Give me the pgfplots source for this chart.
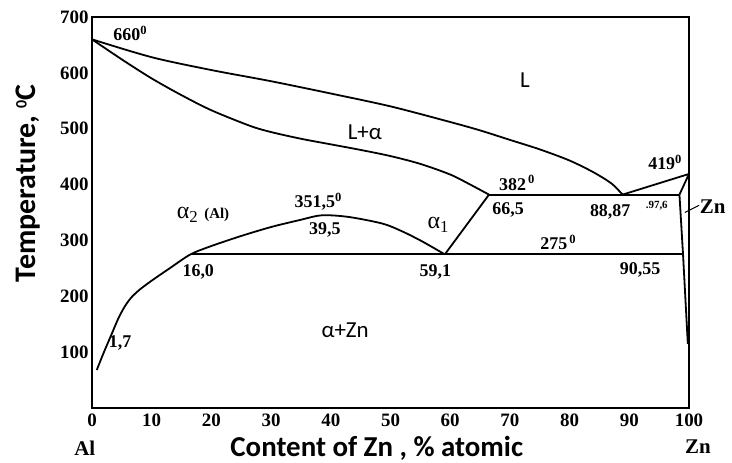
\documentclass[border=0pt]{standalone}
\usepackage{fontspec}
\setmainfont{Liberation Serif}
\newfontfamily\calfont{Carlito}
\usepackage{pgfplots}
\pgfplotsset{compat=1.18}
\usetikzlibrary{calc}

\begin{document}
\begin{tikzpicture}[
    ann/.style={font=\bfseries\fontsize{18}{18}\selectfont},
    big/.style={font=\bfseries\fontsize{21}{21}\selectfont},
    sans/.style={font=\calfont\fontsize{23}{23}\selectfont},
]
\begin{axis}[
    scale only axis,
    width=597bp, height=391bp,
    xmin=0, xmax=100,
    ymin=0, ymax=700,
    xtick={0,10,...,100},
    ytick={100,200,...,700},
    tick style={draw=none},
    axis line style={line width=2.2bp},
    /pgf/number format/assume math mode=true,
    ticklabel style={font=\bfseries\fontsize{19}{19}\selectfont},
    xticklabel style={yshift=-2bp},
    clip=false,
    xlabel={Content of Zn , \% atomic},
    xlabel style={at={(axis description cs:0.477,-0.104)}, anchor=center,
        font=\calfont\bfseries\fontsize{29}{29}\selectfont},
    ylabel={Temperature, \textsuperscript{\fontsize{16}{16}\selectfont 0}C},
    ylabel style={at={(axis description cs:-0.107,0.575)}, anchor=center, rotate=0,
        font=\calfont\bfseries\fontsize{30}{30}\selectfont},
    cycle list={{black, solid, mark=none}},
    every axis plot/.append style={line width=1.8bp},
]
\coordinate (sw) at (rel axis cs:0,0);
\coordinate (ne) at (rel axis cs:1,1);

% liquidus
\addplot+[smooth] coordinates {(0,660) (10,628) (20,605) (30,585) (40,563)
    (50,540) (60,512) (65,497) (70,480) (75,463) (80,443) (84,422) (87,402) (88.87,382)};
% solidus
\addplot+[smooth] coordinates {(0,660) (5,624) (10,590) (15,560) (20,533)
    (26.5,505) (30,494) (35,482) (40,472) (45,462) (50,451) (55,437)
    (60,418) (63,402) (66.5,382)};
% alpha solvus and miscibility dome
\addplot+[smooth] coordinates {(0.8,68) (2,100) (3.2,130) (4.4,160) (5.5,182)
    (6.6,198) (8,212) (10,228) (13,250) (16.5,275) (20,290) (25,308) (30,324)
    (35,337) (38.5,345) (43,342) (48.7,330) (52,316) (55,300) (57,288) (59.1,275)};
% invariant lines
\addplot+[] coordinates {(16.5,275) (99,275)};
\addplot+[] coordinates {(66.5,382) (98.4,382)};
\addplot+[] coordinates {(59.1,275) (66.5,382)};
\addplot+[] coordinates {(88.87,382) (100,419)};
\addplot+[] coordinates {(98.4,382) (100,419)};
% Zn solvus
\addplot+[] coordinates {(98.4,382) (99,275) (99.8,115)};

\node[ann] at (axis cs:6.4,671) {660\textsuperscript{0}};
\node[sans] at (axis cs:72.5,587) {L};
\node[sans] at (axis cs:45.7,494) {L+α};
\node at (axis cs:18.6,345.5) {\fontsize{24}{24}\selectfont α\textsubscript{2}\ \bfseries\fontsize{15}{15}\selectfont(Al)};
\node[ann] at (axis cs:37.9,369) {351,5\textsuperscript{0}};
\node[ann] at (axis cs:39.0,319) {39,5};
\node at (axis cs:58.0,328) {\fontsize{24}{24}\selectfont α\textsubscript{1}};
\node[ann] at (axis cs:57.5,243.5) {59,1};
\node[ann] at (axis cs:17.8,243.5) {16,0};
\node[ann] at (axis cs:4.7,116) {1,7};
\node[sans] at (axis cs:42.4,140) {α+Zn};
\node[ann] at (axis cs:71.2,403) {382\textsuperscript{\,0}};
\node[ann] at (axis cs:69.7,354) {66,5};
\node[ann] at (axis cs:86.8,351) {88,87};
\node[font=\bfseries\fontsize{11}{11}\selectfont] at (axis cs:94.6,362) {.97,6};
\node[ann] at (axis cs:78.1,297) {275\textsuperscript{\,0}};
\node[ann] at (axis cs:91.8,247) {90,55};
\node[ann] at (axis cs:96.0,440) {419\textsuperscript{0}};
\draw[line width=1bp] (axis cs:99.3,350) -- (axis cs:101.7,363);
\node[big, anchor=west, inner sep=0pt] at (axis cs:101.8,360) {Zn};
\node[big] at (axis cs:-1.2,-71.6) {Al};
\node[big] at (axis cs:101.5,-70) {Zn};
\end{axis}
\pgfresetboundingbox
\path[use as bounding box] ($(sw)+(-92bp,-55bp)$) rectangle ($(ne)+(43bp,17bp)$);
\end{tikzpicture}
\end{document}
